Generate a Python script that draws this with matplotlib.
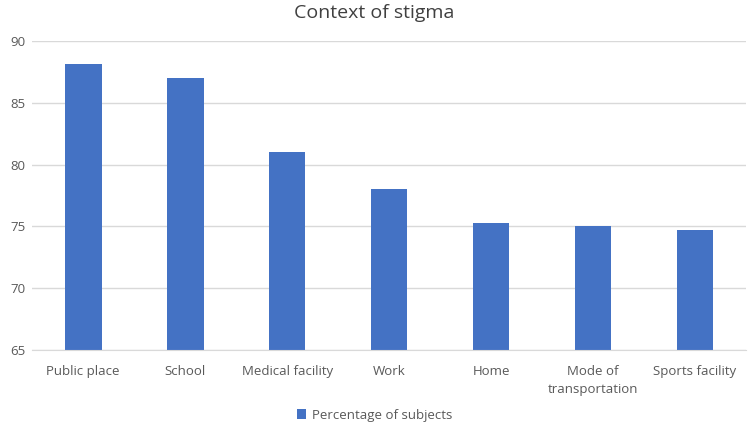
import matplotlib.pyplot as plt
import numpy as np

plt.rcParams['font.family'] = ['Open Sans', 'DejaVu Sans']

categories = ['Public place', 'School', 'Medical facility', 'Work', 'Home',
              'Mode of\ntransportation', 'Sports facility']
values = [88.1, 87.0, 81.0, 78.0, 75.3, 75.0, 74.7]
series_name = 'Percentage of subjects'

fig = plt.figure(figsize=(7.49, 4.25), dpi=100)
ax = fig.add_axes([0.043, 0.1765, 0.953, 0.727])

x = np.arange(len(categories))
ax.bar(x, values, width=0.36, color='#4472C4', label=series_name, zorder=2)

ax.set_ylim(65, 90)
ax.set_xlim(-0.5, len(categories) - 0.5)
ax.set_yticks(np.arange(65, 91, 5))
ax.set_xticks(x)
ax.set_xticklabels(categories, linespacing=1.45)
ax.grid(axis='y', color='#d9d9d9', linewidth=1, zorder=0)
ax.tick_params(length=0, labelsize=9.5, colors='#595959')
ax.tick_params(axis='x', pad=11)
ax.tick_params(axis='y', pad=5)
for s in ['top', 'right', 'left']:
    ax.spines[s].set_visible(False)
ax.spines['bottom'].set_color('#d9d9d9')

fig.suptitle('Context of stigma', y=0.99, fontsize=14, color='#404040')
fig.legend(loc='lower center', bbox_to_anchor=(0.5, -0.02), frameon=False,
           fontsize=9.5, labelcolor='#595959', handlelength=0.7, handleheight=0.7,
           handletextpad=0.4)

fig.savefig('out.png', dpi=100)
